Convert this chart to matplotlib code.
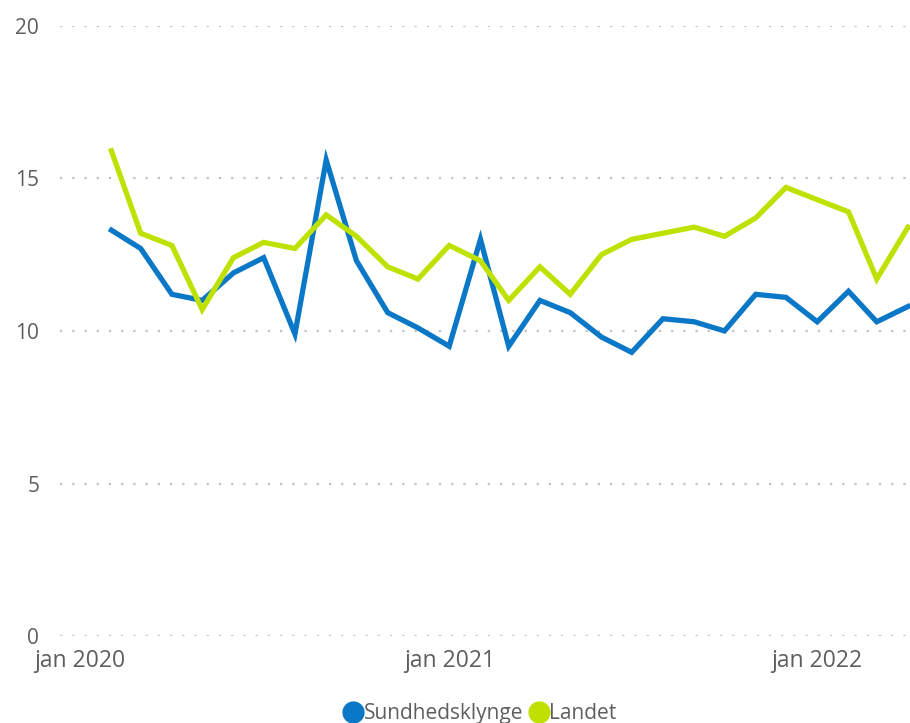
import pandas as pd
import matplotlib.pyplot as plt
from matplotlib.lines import Line2D

# Monthly values, feb 2020 - apr 2022
months = pd.date_range("2020-02-01", "2022-04-01", freq="MS")
sundhedsklynge = [13.3, 12.7, 11.2, 11.0, 11.9, 12.4, 9.9, 15.6, 12.3, 10.6,
                  10.1, 9.5, 13.0, 9.5, 11.0, 10.6, 9.8, 9.3, 10.4, 10.3,
                  10.0, 11.2, 11.1, 10.3, 11.3, 10.3, 10.8]
landet = [15.9, 13.2, 12.8, 10.7, 12.4, 12.9, 12.7, 13.8, 13.1, 12.1,
          11.7, 12.8, 12.3, 11.0, 12.1, 11.2, 12.5, 13.0, 13.2, 13.4,
          13.1, 13.7, 14.7, 14.3, 13.9, 11.7, 13.4]
series_names = ["Sundhedsklynge", "Landet"]
tick_dates = pd.to_datetime(["2020-01-01", "2021-01-01", "2022-01-01"])
tick_labels = ["jan 2020", "jan 2021", "jan 2022"]

blue = "#0a78c6"
green = "#bfe100"
text_col = "#605e5c"

plt.rcParams["font.family"] = ["Open Sans", "DejaVu Sans"]

fig = plt.figure(figsize=(9.1, 7.23), dpi=100)
ax = fig.add_axes([60 / 910, 1 - 636.3 / 723, 1 - 60 / 910, (636.3 - 25.6) / 723])

ax.plot(months, sundhedsklynge, color=blue, lw=3.8, solid_joinstyle="miter", zorder=3)
ax.plot(months, landet, color=green, lw=3.8, solid_joinstyle="miter", zorder=3)

ax.set_ylim(0, 20)
ax.set_yticks([0, 5, 10, 15, 20])
ax.set_xlim(pd.Timestamp("2019-12-12"), pd.Timestamp("2022-04-03"))
ax.set_xticks(tick_dates)
ax.set_xticklabels(tick_labels)

for s in ax.spines.values():
    s.set_visible(False)
ax.tick_params(axis="both", length=0, colors=text_col)
ax.tick_params(axis="y", pad=15, labelsize=15)
ax.tick_params(axis="x", pad=9, labelsize=16.5)
ax.grid(axis="y", color="#c4c2c0", linewidth=1.6, linestyle=(0, (1, 4.5)))
ax.set_axisbelow(True)

handles = [Line2D([], [], marker="o", linestyle="none", markersize=15, color=c)
           for c in (blue, green)]
fig.legend(handles, series_names, loc="center", bbox_to_anchor=(0.527, 0.0125),
           ncol=2, frameon=False, fontsize=15, labelcolor=text_col,
           handletextpad=0.0, columnspacing=0.25, handlelength=1.0, borderpad=0)

fig.savefig("out.png", dpi=100)
